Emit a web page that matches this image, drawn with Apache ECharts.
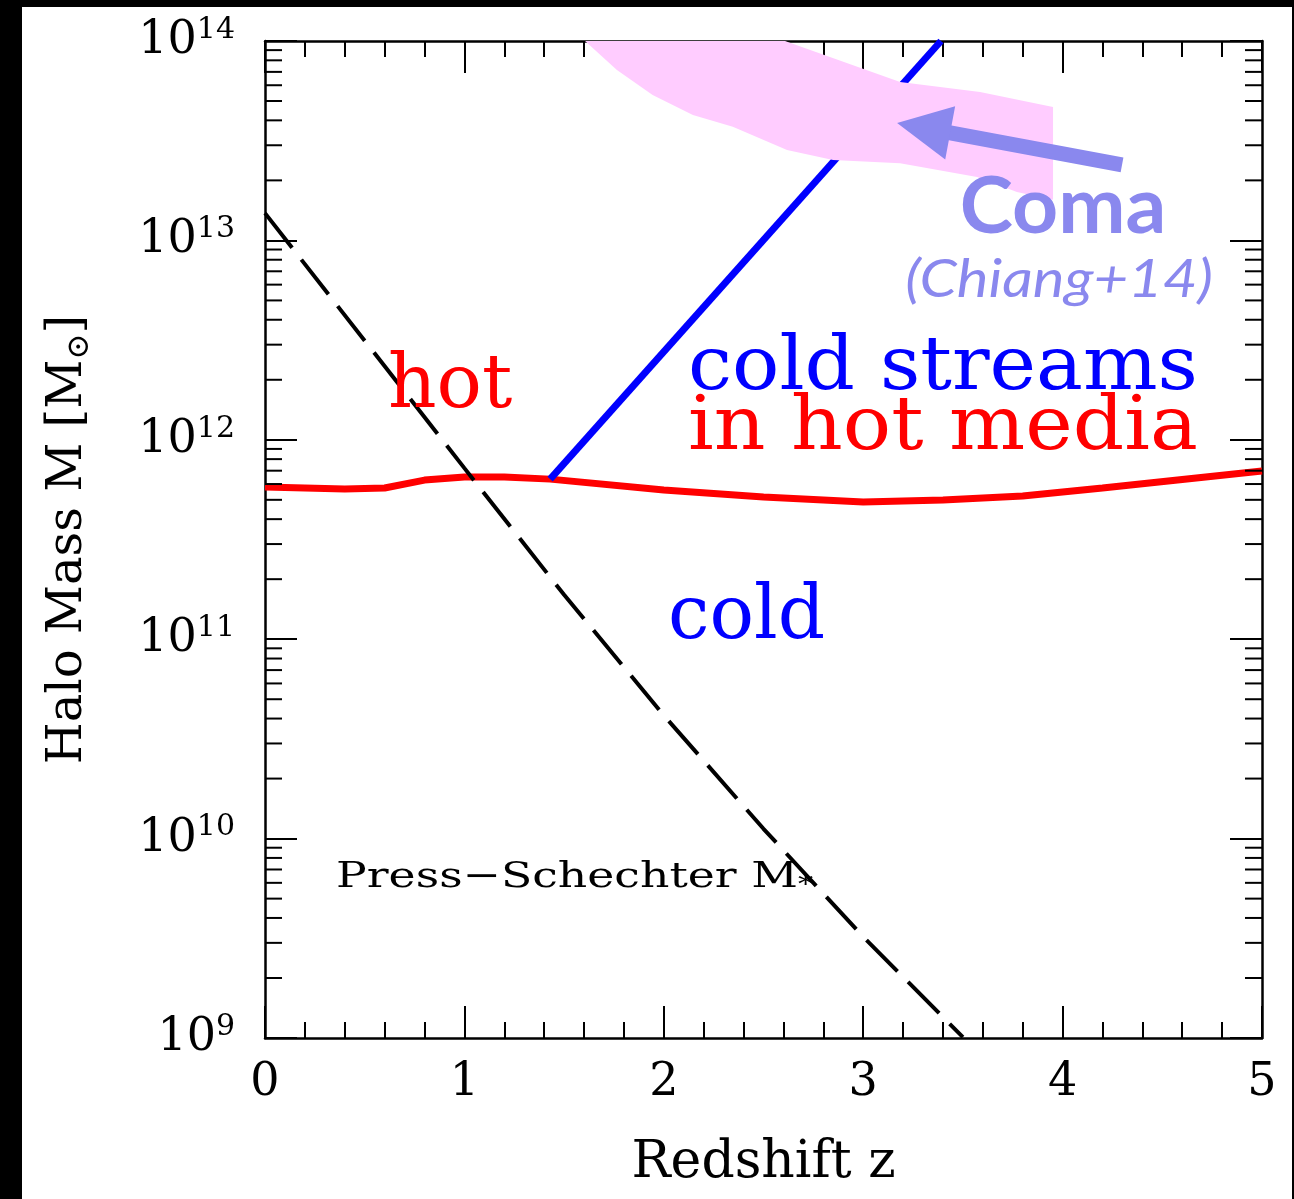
<!DOCTYPE html>
<html><head><meta charset="utf-8">
<script src="https://cdn.jsdelivr.net/npm/echarts@6/dist/echarts.min.js"></script>
<style>html,body{margin:0;padding:0;background:#000;}#c{width:1294px;height:1199px;}</style>
</head><body><div id="c"></div>
<script>
// ---- data ----
const xTicks = [0, 1, 2, 3, 4, 5];
const yTickExponents = [9, 10, 11, 12, 13, 14];
const yMinorMultipliers = [2, 3, 4, 5, 6, 7, 8, 9];

// hot / cold boundary (red)
const hotZ = [0, 0.4, 0.6, 0.8, 1.0, 1.2, 1.43, 2.0, 2.5, 3.0, 3.4, 3.8, 4.2, 5.0];
const hotM = [5.79e11, 5.66e11, 5.73e11, 6.28e11, 6.50e11, 6.50e11, 6.35e11, 5.60e11, 5.16e11, 4.88e11, 4.99e11, 5.22e11, 5.73e11, 6.97e11];

// cold streams boundary (blue)
const streamZ = [1.43, 3.39];
const streamM = [6.35e11, 1e14];

// Press-Schechter M* (dashed)
const psZ = [0, 0.5, 1.0, 1.5, 2.0, 2.5, 3.0, 3.5];
const psM = [1.37e13, 3.14e12, 7.21e11, 1.67e11, 4.15e10, 1.12e10, 3.22e9, 1.01e9];

// Coma progenitor band (Chiang+14)
const comaZ = [1.605, 2.608, 3.185, 3.586, 3.952, 3.952, 3.771, 3.571, 3.185, 2.849, 2.618, 2.346, 2.146, 1.944, 1.765];
const comaM = [1e14, 1e14, 6.22e13, 5.55e13, 4.67e13, 1.60e13, 1.75e13, 2.08e13, 2.44e13, 2.53e13, 2.84e13, 3.71e13, 4.26e13, 5.36e13, 7.16e13];

// arrow: tail -> tip
const arrowZ = [4.298, 3.170];
const arrowM = [2.39e13, 3.88e13];

// ---- chart ----
const yMinor = [];
yTickExponents.slice(0, -1).forEach(e => yMinorMultipliers.forEach(m => yMinor.push(m * Math.pow(10, e))));

const zip = (a, b) => a.map((v, i) => [v, b[i]]);
const SERIF = 'DejaVu Serif';
const tickStyle = {color: '#000', width: 2};
const axisLine = {show: true, onZero: false, lineStyle: {color: '#000', width: 2.5}};

function xAx(pos, labels) {
  return {
    type: 'value', min: 0, max: 5, interval: 1, position: pos,
    axisLine: axisLine,
    axisTick: {show: true, inside: true, length: 32, lineStyle: tickStyle},
    minorTick: {show: true, splitNumber: 5, length: 16, lineStyle: tickStyle},
    splitLine: {show: false}, minorSplitLine: {show: false},
    axisLabel: labels ? {show: true, fontFamily: SERIF, fontSize: 46, color: '#000', margin: 22,
      formatter: v => xTicks.indexOf(v) >= 0 ? String(v) : ''} : {show: false},
    name: labels ? 'Redshift z' : '', nameLocation: 'middle', nameGap: 99,
    nameTextStyle: {fontFamily: SERIF, fontSize: 52, color: '#000'}
  };
}
function yAx(pos, labels) {
  return {
    type: 'log', logBase: 10, min: 1e9, max: 1e14, position: pos,
    axisLine: axisLine,
    axisTick: {show: true, inside: true, length: 32, lineStyle: tickStyle},
    splitLine: {show: false},
    axisLabel: labels ? {show: true, margin: 30,
      formatter: v => '{n|10}{s|' + Math.round(Math.log(v) / Math.LN10) + '}',
      rich: {
        n: {fontFamily: SERIF, fontSize: 46, color: '#000', lineHeight: 52},
        s: {fontFamily: SERIF, fontSize: 30, color: '#000', lineHeight: 30, verticalAlign: 'top'}
      }} : {show: false},
    name: labels ? '{a|Halo Mass M [M}{b|⊙}{a|]}' : '', nameLocation: 'middle', nameGap: 170,
    nameTextStyle: {rich: {
      a: {fontFamily: SERIF, fontSize: 48, color: '#000', lineHeight: 52},
      b: {fontFamily: SERIF, fontSize: 31, color: '#000', lineHeight: 31, verticalAlign: 'bottom'}
    }}
  };
}

function label(txt, x, y, font, color, align, sx) {
  return {type: 'text', x: x, y: y, z: 50, scaleX: sx || 1,
    style: {text: txt, font: font, fill: color, textAlign: align, textVerticalAlign: 'middle', align: align, verticalAlign: 'middle'}};
}

const option = {
  backgroundColor: '#fff',
  animation: false,
  grid: {left: 265, right: 32, top: 41, bottom: 161},
  xAxis: [xAx('bottom', true), xAx('top', false)],
  yAxis: [yAx('left', true), yAx('right', false)],
  graphic: [
    {type: 'rect', shape: {x: 0, y: 0, width: 22, height: 1199}, style: {fill: '#000'}, z: 100},
    {type: 'rect', shape: {x: 0, y: 0, width: 1294, height: 7}, style: {fill: '#000'}, z: 100},
    {type: 'rect', shape: {x: 1292, y: 0, width: 2, height: 1199}, style: {fill: '#000'}, z: 100},
    label('hot', 388, 388, '74px "DejaVu Serif"', '#ff0000', 'left', 1.02),
    label('cold streams', 688, 370, '74px "DejaVu Serif"', '#0000ff', 'left', 1.063),
    label('in hot media', 688, 430, '74px "DejaVu Serif"', '#ff0000', 'left', 1.086),
    label('cold', 668, 619, '74px "DejaVu Serif"', '#0000ff', 'left', 1.0),
    label('Coma', 1063, 208, 'bold 78px Lato', '#8a88ee', 'center', 1.03),
    label('(Chiang+14)', 1059, 280, 'italic 52px Lato', '#8a88ee', 'center', 1.15),
    {type: 'text', x: 336, y: 878, z: 50, scaleX: 1.27, style: {text: '{a|Press−Schechter M}{b|*}', textAlign: 'left', textVerticalAlign: 'middle', align: 'left', verticalAlign: 'middle',
      rich: {a: {fontFamily: SERIF, fontSize: 36, fill: '#000', color: '#000', lineHeight: 40}, b: {fontFamily: SERIF, fontSize: 24, fill: '#000', color: '#000', lineHeight: 30, verticalAlign: 'bottom'}}}}
  ],
  series: [
    {type: 'line', data: zip(hotZ, hotM), showSymbol: false, symbol: 'none', z: 3,
      lineStyle: {color: '#ff0000', width: 7}},
    {type: 'line', data: zip(streamZ, streamM), showSymbol: false, symbol: 'none', z: 3,
      lineStyle: {color: '#0000ff', width: 7, cap: 'butt'}},
    {type: 'line', data: zip(psZ, psM), showSymbol: false, symbol: 'none', z: 3,
      lineStyle: {color: '#000', width: 4, type: [44, 15], cap: 'butt'}},
    {type: 'custom', z: 5, silent: true, data: [[comaZ[0], comaM[0]]],
      renderItem: (p, api) => ({type: 'polygon', shape: {points: comaZ.map((z, i) => api.coord([z, comaM[i]]))}, style: {fill: '#ffccff'}})},
    {type: 'custom', z: 6, silent: true, data: [[arrowZ[0], arrowM[0]]],
      renderItem: (p, api) => {
        const t = api.coord([arrowZ[0], arrowM[0]]);
        const h = api.coord([arrowZ[1], arrowM[1]]);
        const dx = h[0] - t[0], dy = h[1] - t[1], L = Math.hypot(dx, dy);
        const ux = dx / L, uy = dy / L, nx = -uy, ny = ux;
        const HL = 54, HW = 27, SW = 7.5;
        const bx = h[0] - ux * HL, by = h[1] - uy * HL;
        return {type: 'group', children: [
          {type: 'polygon', shape: {points: [[t[0] + nx * SW, t[1] + ny * SW], [bx + ux * 4 + nx * SW, by + uy * 4 + ny * SW], [bx + ux * 4 - nx * SW, by + uy * 4 - ny * SW], [t[0] - nx * SW, t[1] - ny * SW]]}, style: {fill: '#8a88ee'}},
          {type: 'polygon', shape: {points: [[h[0], h[1]], [bx + nx * HW, by + ny * HW], [bx - nx * HW, by - ny * HW]]}, style: {fill: '#8a88ee'}}
        ]};
      }},
    {type: 'custom', z: 8, silent: true, data: yMinor.map(v => [0, v]),
      renderItem: (p, api) => {
        const v = api.value(1);
        const l = api.coord([0, v]), r = api.coord([5, v]);
        return {type: 'group', children: [
          {type: 'line', shape: {x1: l[0], y1: l[1], x2: l[0] + 17, y2: l[1]}, style: {stroke: '#000', lineWidth: 2}},
          {type: 'line', shape: {x1: r[0], y1: r[1], x2: r[0] - 17, y2: r[1]}, style: {stroke: '#000', lineWidth: 2}}
        ]};
      }}
  ]
};
const chart = echarts.init(document.getElementById('c'));
chart.setOption(option);
</script></body></html>
